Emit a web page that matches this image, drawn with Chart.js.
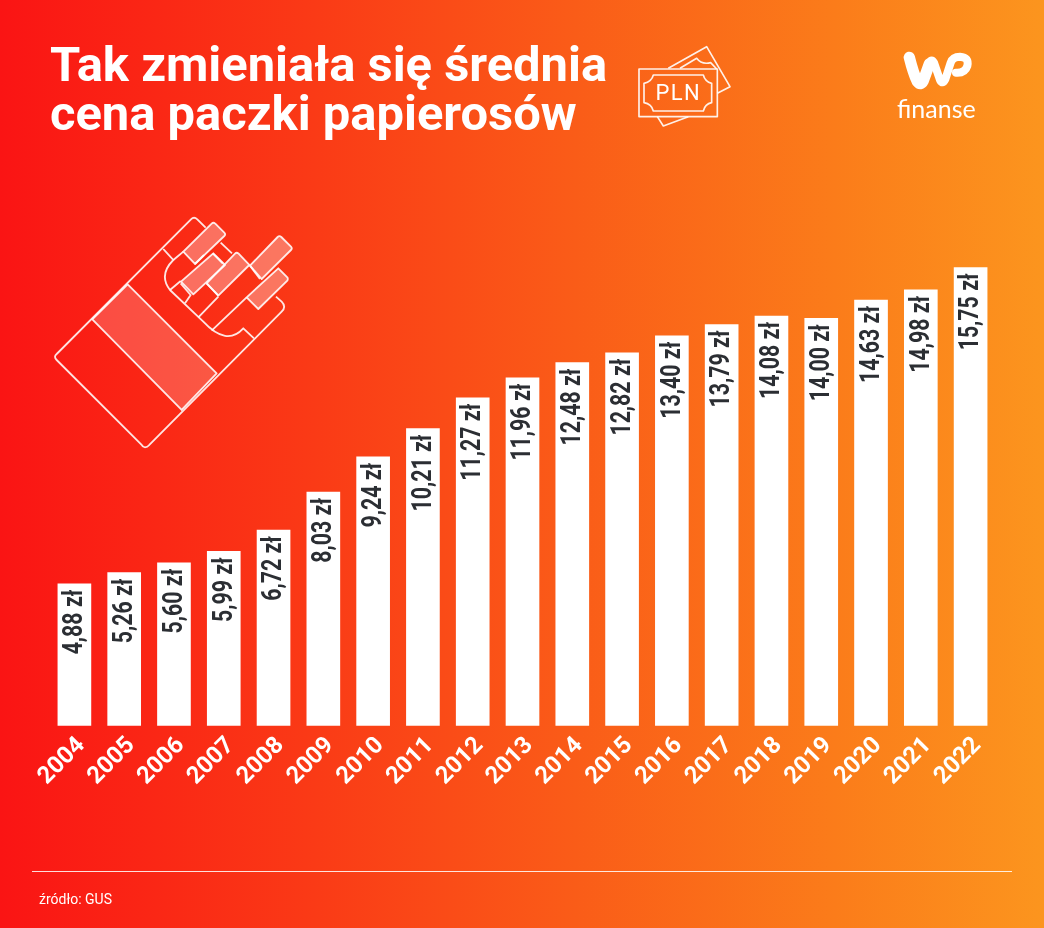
<!DOCTYPE html>
<html lang="pl"><head><meta charset="utf-8">
<script src="https://cdn.jsdelivr.net/npm/chart.js@4"></script>
<style>
html,body{margin:0;padding:0;width:1044px;height:928px;overflow:hidden}
body{position:relative;background:linear-gradient(90deg,#fa1414 0%,#fa3a16 30%,#fa5c18 55%,#fb7c1a 80%,#fc951e 100%);font-family:Roboto,sans-serif;color:#fff}
#c{position:absolute;left:0;top:0;width:1044px;height:928px}
h1{position:absolute;left:50px;top:40px;margin:0;font:700 48.9px/49px Roboto,sans-serif;white-space:nowrap}
#rule{position:absolute;left:32px;top:871px;width:980px;height:1px;background:#fff;opacity:.85}
#src{position:absolute;left:39px;top:891px;font:400 14px/17px Roboto,sans-serif}
#fin{position:absolute;left:897px;top:94px;font:400 25px/28px Lato,Roboto,sans-serif}
svg{position:absolute;left:0;top:0}
</style></head><body>
<canvas id="c" width="1044" height="928"></canvas>
<h1>Tak zmieniała się średnia<br>cena paczki papierosów</h1>
<svg width="1044" height="928" fill="none" stroke="#fff" stroke-linejoin="round">
 <g transform="translate(30,200) scale(.3333)" stroke-width="5.5" stroke-opacity=".88">
  <path d="M80 462L483 58Q492 49 502 58L527 83M345 742Q338 742 335 735L80 480Q70 470 80 462M345 742Q352 742 358 735L755 335Q770 320 755 305L738 290"/>
  <path d="M293 253L560 520L455 630L187 358Z" fill="#fff" fill-opacity=".2"/>
  <path d="M400 147L430 180Q385 225 420 270L520 365Q590 440 640 385L672 415"/>
  <path d="M420 270L452 243M452 250L482 285L465 310M505 352L565 290M545 392L650 292M530 250L565 287M572 128L606 160M548 160L578 190M495 192L522 165M430 180L460 155M660 197L690 237"/>
  <g fill="#fff" fill-opacity=".32">
   <path d="M545 71Q550 66 556 71L583 98Q588 103 583 108L495 192L460 155Z"/><path d="M550 160L585 195L490 283L453 245Z"/><path d="M615 161Q620 156 626 161L658 195L565 287L530 250Z"/><path d="M743 111Q748 106 754 111L783 140Q788 145 783 150L695 237L660 197Z"/><path d="M745 205L772 232Q775 237 772 242L685 327L650 292Z"/>
  </g>
 </g>
 <g transform="translate(620,30) scale(.3333)" stroke-width="5" stroke-opacity=".9">
  <rect x="57" y="117" width="235" height="143"/>
  <path d="M100 135H250Q255 155 275 160V218Q255 222 250 243H100Q95 222 72 218V160Q95 155 100 135Z"/>
  <path d="M145 115L260 50L330 170L292 190M112 260L130 288L205 260M180 115L230 85Q245 105 272 98L290 117"/>
  <text x="175" y="210" text-anchor="middle" fill="#fff" stroke="none" font-family="Roboto" font-size="66" letter-spacing="4">PLN</text>
 </g>
 <g transform="translate(890,40) scale(.3333)" stroke-linecap="round">
  <path stroke-width="34" d="M58 52Q70 100 82 125Q92 138 100 122L118 72"/>
  <path stroke-width="24" d="M118 68Q125 55 132 68L150 120Q158 135 166 118L182 68Q188 50 210 50Q238 52 232 78Q225 100 198 98"/>
 </g>
</svg>
<div id="fin">finanse</div>
<div id="rule"></div>
<div id="src">źródło: GUS</div>
<script>
const years=['2004','2005','2006','2007','2008','2009','2010','2011','2012','2013','2014','2015','2016','2017','2018','2019','2020','2021','2022'];
const prices=[4.88,5.26,5.60,5.99,6.72,8.03,9.24,10.21,11.27,11.96,12.48,12.82,13.40,13.79,14.08,14.00,14.63,14.98,15.75];
const valueLabels={id:'valueLabels',afterDatasetsDraw(ch){
  const c=ch.ctx,m=ch.getDatasetMeta(0);
  c.save();c.fillStyle='#2b2e33';c.font='700 27px Roboto,sans-serif';c.textAlign='right';c.textBaseline='middle';
  m.data.forEach((b,i)=>{c.save();c.translate(b.x,b.y+6);c.rotate(-Math.PI/2);c.scale(.79,1);
    c.fillText(prices[i].toFixed(2).replace('.',',')+' zł',0,1);c.restore();});
  c.restore();}};
new Chart(document.getElementById('c'),{type:'bar',
 data:{labels:years,datasets:[{data:prices,backgroundColor:'#fff',borderWidth:0,barThickness:33}]},
 plugins:[valueLabels],
 options:{responsive:false,animation:false,
  layout:{padding:{left:49.5,right:48.5,top:202,bottom:139}},
  plugins:{legend:{display:false},tooltip:{enabled:false}},
  scales:{
   x:{grid:{display:false},border:{display:false},
      ticks:{color:'#fff',font:{family:'Roboto,sans-serif',size:24,weight:'700'},minRotation:45,maxRotation:45,padding:-2,labelOffset:7,autoSkip:false}},
   y:{display:false,min:0,max:18}
  }}});
</script>
</body></html>
